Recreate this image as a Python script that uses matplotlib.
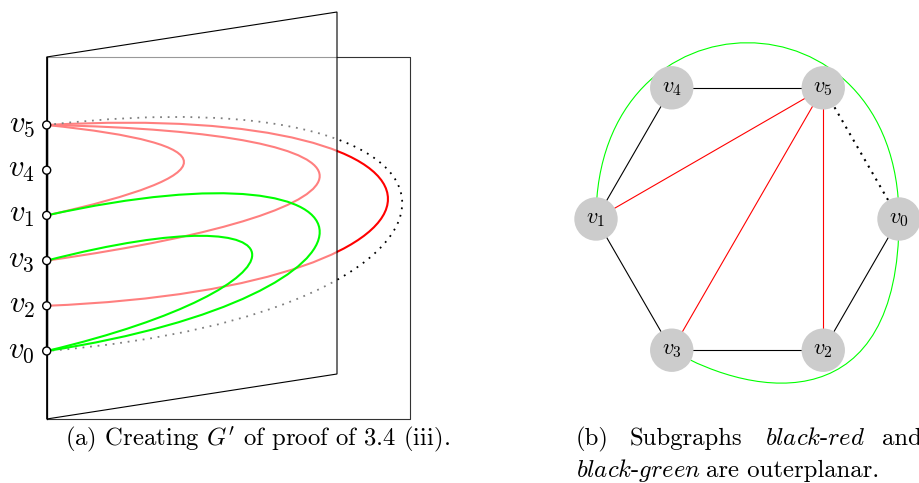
import matplotlib
matplotlib.use('Agg')
import matplotlib.pyplot as plt
from matplotlib.path import Path
from matplotlib.patches import PathPatch, Circle, Polygon
import numpy as np

plt.rcParams['mathtext.fontset'] = 'cm'
plt.rcParams['font.family'] = ['cmr10', 'DejaVu Serif']
plt.rcParams['axes.unicode_minus'] = False

# ---- (a) book embedding: spine order and edges per page
spine_order = ['v5', 'v4', 'v1', 'v3', 'v2', 'v0']   # top to bottom
red_page = [('v5', 'v1'), ('v5', 'v3'), ('v5', 'v2')]
green_page = [('v1', 'v0'), ('v3', 'v0')]
dotted_edge = [('v5', 'v0')]

# ---- (b) hexagon graph
hex_order = ['v0', 'v5', 'v4', 'v1', 'v3', 'v2']     # counter-clockwise from the right
black_edges = [('v4', 'v5'), ('v4', 'v1'), ('v1', 'v3'), ('v3', 'v2'), ('v2', 'v0')]
red_edges = [('v1', 'v5'), ('v3', 'v5'), ('v2', 'v5')]
dotted_edges = [('v5', 'v0')]
green_edges = [('v1', 'v0'), ('v3', 'v0')]

caption_a = r"(a) Creating $G'$ of proof of 3.4 (iii)."

# geometry (pixels, y down)
spine_x = 46.7
spine_top, spine_step = 125, 45.2
ypos = {v: spine_top + i * spine_step for i, v in enumerate(spine_order)}
# bezier bulge (width, y of ctrl1, y of ctrl2) per curve
bulge = {
    ('v5', 'v1'): (183, 143.7, 175),
    ('v5', 'v3'): (364, 132, 209),
    ('v5', 'v2'): (455, 100, 287),
    ('v1', 'v0'): (364, 135, 295),
    ('v3', 'v0'): (274, 190, 286),
    ('v5', 'v0'): (474, 70, 313),
}

fig = plt.figure(figsize=(9.2, 4.83), dpi=100)
ax = fig.add_axes([0, 0, 1, 1])
ax.set_xlim(0, 920)
ax.set_ylim(483, 0)
ax.axis('off')


def spine_curve(a, b, **kw):
    w, c1, c2 = bulge[(a, b)]
    verts = [(spine_x, ypos[a]), (spine_x + w, c1), (spine_x + w, c2), (spine_x, ypos[b])]
    p = Path(verts, [Path.MOVETO, Path.CURVE4, Path.CURVE4, Path.CURVE4])
    ax.add_patch(PathPatch(p, fill=False, **kw))


# back page (rectangle)
ax.plot([spine_x, 410, 410, spine_x], [57, 57, 419, 419], color='#333333', lw=0.8, zorder=1)
for a, b in red_page:
    spine_curve(a, b, edgecolor='#ff0000', lw=1.5, zorder=2)
for a, b in dotted_edge:
    spine_curve(a, b, edgecolor='black', lw=1.3, linestyle=(0, (1, 3.2)), zorder=2)

# slanted page, half transparent
ax.add_patch(Polygon([(spine_x, 57), (337, 12), (337, 374), (spine_x, 419)], closed=True,
                     facecolor=(1, 1, 1, 0.5), edgecolor='black', lw=0.8, zorder=3))
for a, b in green_page:
    spine_curve(a, b, edgecolor='#00ff00', lw=1.5, zorder=4)

ax.plot([spine_x, spine_x], [57, 419], color='black', lw=0.9, zorder=5)
ax.plot([spine_x, spine_x], [ypos['v5'], ypos['v0']], color='black', lw=1.7, zorder=5)
for v in spine_order:
    ax.add_patch(Circle((spine_x, ypos[v]), 4, facecolor='white', edgecolor='black', lw=1.0, zorder=6))
    ax.text(35, ypos[v], '$%s_%s$' % (v[0], v[1]), fontsize=22, ha='right', va='center', zorder=6)

ax.text(65, 445, caption_a, fontsize=17.8, ha='left', va='baseline')

# ---- (b)
cx, cy, R = 747.5, 219, 151.5
pos = {}
for i, v in enumerate(hex_order):
    ang = np.deg2rad(60 * i)
    pos[v] = (cx + R * np.cos(ang), cy - R * np.sin(ang))

for a, b in black_edges:
    ax.plot([pos[a][0], pos[b][0]], [pos[a][1], pos[b][1]], color='black', lw=0.8, zorder=2)
for a, b in red_edges:
    ax.plot([pos[a][0], pos[b][0]], [pos[a][1], pos[b][1]], color='#ff0000', lw=0.8, zorder=2)
for a, b in dotted_edges:
    ax.plot([pos[a][0], pos[b][0]], [pos[a][1], pos[b][1]], color='black', lw=1.5,
            linestyle=(0, (1, 2.6)), zorder=2)

# green edges drawn around the outside
(x1, y1), (x0, y0) = pos['v1'], pos['v0']
top = Path([(x1, y1), (x1, y1 - 235), (x0, y0 - 235), (x0, y0)],
           [Path.MOVETO, Path.CURVE4, Path.CURVE4, Path.CURVE4])
x3, y3 = pos['v3']
bot = Path([(x3, y3), (x3 + 86, y3 + 50), (x0, y0 + 199), (x0, y0)],
           [Path.MOVETO, Path.CURVE4, Path.CURVE4, Path.CURVE4])
for p in (top, bot):
    ax.add_patch(PathPatch(p, fill=False, edgecolor='#00ff00', lw=0.8, zorder=2))

for v in hex_order:
    ax.add_patch(Circle(pos[v], 21.7, facecolor='#cccccc', edgecolor='none', zorder=4))
    ax.text(pos[v][0], pos[v][1], '$%s_%s$' % (v[0], v[1]), fontsize=16, ha='center', va='center', zorder=5)

fs = 17.8
ax.text(576, 445, '(b)', fontsize=fs, va='baseline')
ax.text(630, 445, 'Subgraphs', fontsize=fs, va='baseline')
ax.text(765, 445, r'$\mathit{black}$-$\mathit{red}$', fontsize=fs, va='baseline')
ax.text(882, 445, 'and', fontsize=fs, va='baseline')
ax.text(576, 477, r'$\mathit{black}$-$\mathit{green}$', fontsize=fs, va='baseline')
ax.text(706, 477, 'are outerplanar.', fontsize=fs, va='baseline')

fig.savefig('out.png', dpi=100)
